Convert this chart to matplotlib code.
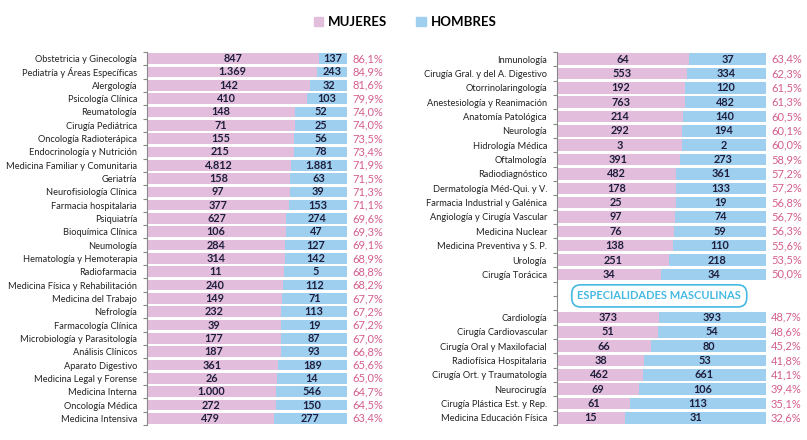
import matplotlib.pyplot as plt
import matplotlib.transforms as mtransforms
from matplotlib.patches import Patch

# Especialidades con mayoria femenina (panel izquierdo)
left_names = [
    "Obstetricia y Ginecología", "Pediatría y Áreas Específicas", "Alergología",
    "Psicología Clínica", "Reumatología", "Cirugía Pediátrica",
    "Oncología Radioterápica", "Endocrinología y Nutrición",
    "Medicina Familiar y Comunitaria", "Geriatría", "Neurofisiología Clínica",
    "Farmacia hospitalaria", "Psiquiatría", "Bioquímica Clínica", "Neumología",
    "Hematología y Hemoterapia", "Radiofarmacia", "Medicina Física y Rehabilitación",
    "Medicina del Trabajo", "Nefrología", "Farmacología Clínica",
    "Microbiología y Parasitología", "Análisis Clínicos", "Aparato Digestivo",
    "Medicina Legal y Forense", "Medicina Interna", "Oncología Médica",
    "Medicina Intensiva",
]
left_mujeres = [847, 1369, 142, 410, 148, 71, 155, 215, 4812, 158, 97, 377, 627,
                106, 284, 314, 11, 240, 149, 232, 39, 177, 187, 361, 26, 1000, 272, 479]
left_hombres = [137, 243, 32, 103, 52, 25, 56, 78, 1881, 63, 39, 153, 274,
                47, 127, 142, 5, 112, 71, 113, 19, 87, 93, 189, 14, 546, 150, 277]

# Panel derecho: resto de especialidades femeninas
right_names = [
    "Inmunología", "Cirugía Gral. y del A. Digestivo", "Otorrinolaringología",
    "Anestesiología y Reanimación", "Anatomía Patológica", "Neurología",
    "Hidrología Médica", "Oftalmología", "Radiodiagnóstico",
    "Dermatología Méd-Qui. y V.", "Farmacia Industrial y Galénica",
    "Angiología y Cirugía Vascular", "Medicina Nuclear",
    "Medicina Preventiva y S. P.", "Urología", "Cirugía Torácica",
]
right_mujeres = [64, 553, 192, 763, 214, 292, 3, 391, 482, 178, 25, 97, 76, 138, 251, 34]
right_hombres = [37, 334, 120, 482, 140, 194, 2, 273, 361, 133, 19, 74, 59, 110, 218, 34]

# Especialidades masculinas
masc_names = [
    "Cardiología", "Cirugía Cardiovascular", "Cirugía Oral y Maxilofacial",
    "Radiofísica Hospitalaria", "Cirugía Ort. y Traumatología", "Neurocirugía",
    "Cirugía Plástica Est. y Rep.", "Medicina Educación Física",
]
masc_mujeres = [373, 51, 66, 38, 462, 69, 61, 15]
masc_hombres = [393, 54, 80, 53, 661, 106, 113, 31]

PINK = "#E3BEDC"
BLUE = "#9ECFEF"
NUM = "#1E1E3C"
PCT = "#D45E8E"
CYAN = "#45B9E3"

plt.rcParams['font.family'] = ['Lato', 'DejaVu Sans']


def fmt(n):
    return f"{n:,}".replace(",", ".")


def draw_panel(ax, names, muj, hom, pos, n_slots):
    tot = [m + h for m, h in zip(muj, hom)]
    fm = [m / t for m, t in zip(muj, tot)]
    fh = [h / t for h, t in zip(hom, tot)]
    ax.barh(pos, fm, height=0.8, color=PINK, edgecolor="none")
    ax.barh(pos, fh, left=fm, height=0.8, color=BLUE, edgecolor="none")
    trans = mtransforms.blended_transform_factory(ax.transAxes, ax.transData)
    for y, m, h, a, b in zip(pos, muj, hom, fm, fh):
        ax.text(a / 2, y, fmt(m), ha="center", va="center", fontsize=7.8,
                fontweight="bold", color=NUM)
        ax.text(a + b / 2, y, fmt(h), ha="center", va="center", fontsize=7.8,
                fontweight="bold", color=NUM)
        pct = f"{a * 100:.1f}%".replace(".", ",")
        ax.text(1.025, y, pct, transform=trans, ha="left", va="center",
                fontsize=8, color=PCT)
    ax.set_xlim(0, 1)
    ax.set_ylim(n_slots - 0.5, -0.5)
    ax.set_yticks(pos)
    ax.set_yticklabels(names, fontsize=6.7, color="#222222")
    ax.tick_params(axis="y", length=0, pad=7)
    ax.set_yticks([i + 0.5 for i in range(-1, n_slots)], minor=True)
    ax.tick_params(axis="y", which="minor", length=3, color="#888888", width=0.8)
    ax.set_xticks([])
    for s in ["top", "right", "bottom"]:
        ax.spines[s].set_visible(False)
    ax.spines["left"].set_color("#888888")
    ax.spines["left"].set_linewidth(0.8)


fig = plt.figure(figsize=(8.07, 4.4), dpi=100)
ax1 = fig.add_axes([0.182, 0.034, 0.248, 0.848])
ax2 = fig.add_axes([0.690, 0.034, 0.259, 0.848])

draw_panel(ax1, left_names, left_mujeres, left_hombres,
           list(range(len(left_names))), len(left_names))

r_pos = list(range(len(right_names))) + \
    [len(right_names) + 2 + i for i in range(len(masc_names))]
draw_panel(ax2, right_names + masc_names, right_mujeres + masc_mujeres,
           right_hombres + masc_hombres, r_pos, len(right_names) + 2 + len(masc_names))

trans2 = mtransforms.blended_transform_factory(ax2.transAxes, ax2.transData)
ax2.text(0.49, len(right_names) + 0.5, "ESPECIALIDADES MASCULINAS", transform=trans2,
         ha="center", va="center", fontsize=8, fontweight="bold", color=CYAN,
         bbox=dict(boxstyle="round,pad=0.5,rounding_size=0.8", facecolor="white",
                   edgecolor=CYAN, linewidth=1.2))

handles = [Patch(color=PINK, label="MUJERES"), Patch(color=BLUE, label="HOMBRES")]
leg = fig.legend(handles=handles, loc="upper center", bbox_to_anchor=(0.502, 0.99),
                 ncol=2, frameon=False, handlelength=0.7, handleheight=0.7,
                 handletextpad=0.4, columnspacing=2.2,
                 prop={"size": 9.5, "weight": "bold"})

fig.savefig("out.png", dpi=100)
